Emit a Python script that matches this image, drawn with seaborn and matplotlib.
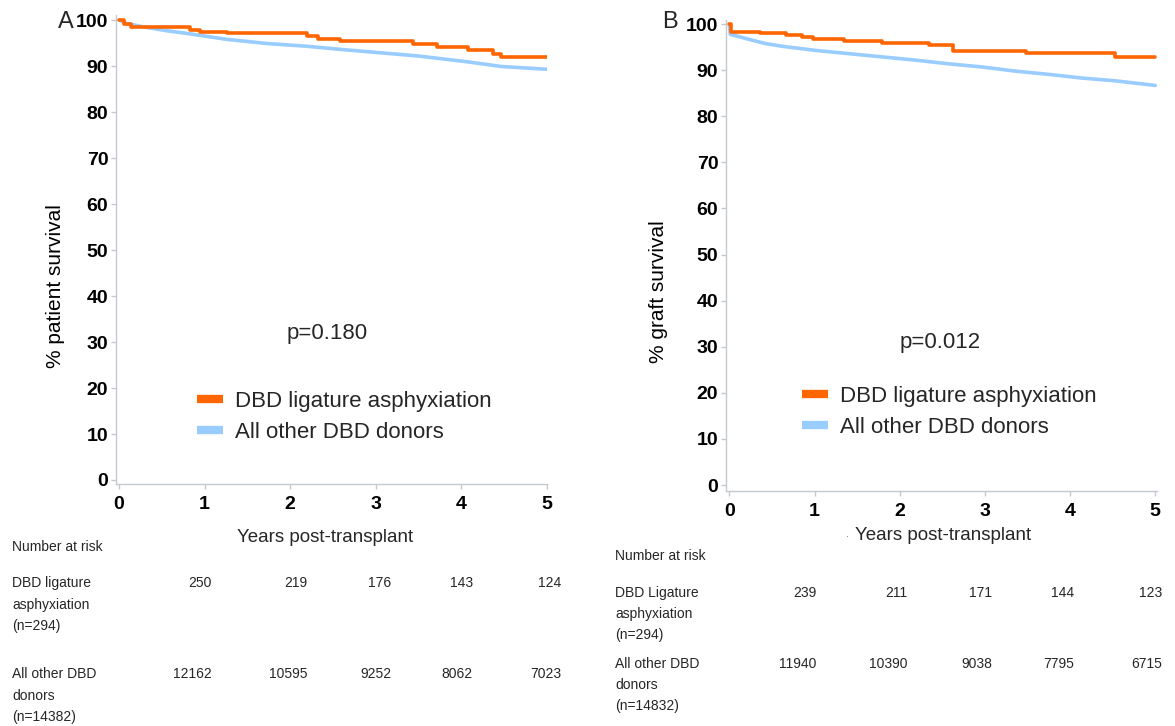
import numpy as np
import pandas as pd
import matplotlib
matplotlib.use("Agg")
import matplotlib.pyplot as plt
import seaborn as sns
from matplotlib.lines import Line2D

# ---------------- data ----------------
year_ticks = [0, 1, 2, 3, 4, 5]
pct_ticks = [0, 10, 20, 30, 40, 50, 60, 70, 80, 90, 100]

# Panel A - patient survival
a_lig_t = [0, 0.06, 0.14, 0.83, 0.95, 1.26, 2.20, 2.32, 2.58, 3.44, 3.72, 4.08, 4.37, 4.46, 5.0]
a_lig_s = [100, 99.2, 98.4, 97.8, 97.4, 97.1, 96.5, 95.9, 95.4, 94.8, 94.1, 93.4, 92.7, 91.9, 91.9]
a_oth_t = [0, 0.10, 0.29, 0.55, 0.83, 1.26, 1.73, 2.20, 2.60, 2.98, 3.49, 4.08, 4.47, 5.0]
a_oth_s = [100, 99.2, 98.5, 97.7, 97.0, 95.8, 94.9, 94.3, 93.6, 93.0, 92.2, 90.9, 89.9, 89.3]

# Panel B - graft survival
b_lig_t = [0, 0.02, 0.36, 0.66, 0.85, 0.98, 1.34, 1.79, 2.34, 2.63, 3.48, 4.53, 5.0]
b_lig_s = [100, 98.3, 98.0, 97.6, 97.2, 96.7, 96.3, 95.9, 95.4, 94.2, 93.7, 92.8, 92.8]
b_oth_t = [0, 0.01, 0.07, 0.23, 0.42, 0.62, 1.01, 1.40, 1.79, 2.18, 2.57, 2.97, 3.36, 3.75, 4.14, 4.53, 5.0]
b_oth_s = [100, 97.8, 97.5, 96.7, 95.8, 95.2, 94.3, 93.6, 92.9, 92.2, 91.4, 90.7, 89.8, 89.1, 88.3, 87.7, 86.7]

series_labels = ["DBD ligature asphyxiation", "All other DBD donors"]
p_values = ["p=0.180", "p=0.012"]
panel_letters = ["A", "B"]
y_labels = ["% patient survival", "% graft survival"]
x_label = "Years post-transplant"

risk_title = "Number at risk"
a_risk_lig = [250, 219, 176, 143, 124]
a_risk_oth = [12162, 10595, 9252, 8062, 7023]
b_risk_lig = [239, 211, 171, 144, 123]
b_risk_oth = [11940, 10390, 9038, 7795, 6715]
a_row_labels = [["DBD ligature", "asphyxiation", "(n=294)"],
                ["All other DBD", "donors", "(n=14382)"]]
b_row_labels = [["DBD Ligature", "asphyxiation", "(n=294)"],
                ["All other DBD", "donors", "(n=14832)"]]

# ---------------- style ----------------
sns.set_theme(style="white")
plt.rcParams["font.family"] = ["Liberation Sans", "DejaVu Sans"]

ORANGE = "#ff6600"
BLUE = "#99ccff"
SPINE = "#c4c8d0"

W, H = 1175, 726
fig = plt.figure(figsize=(W / 100, H / 100), dpi=100)


def fx(px):
    return px / W


def fy(py):
    return 1 - py / H


def ftext(px, py, s, **kw):
    fig.text(fx(px), fy(py), s, **kw)


panels = [
    dict(rect=(116, 15, 547, 484), xlim=(-0.035, 5.0), ylim=(-0.87, 101.1),
         lig=(a_lig_t, a_lig_s), oth=(a_oth_t, a_oth_s), ylab=y_labels[0],
         ylab_pos=(-0.118, 0.422), letter=(66, 22), p=(327, 333), leg=(197, 391),
         xlab=(325, 537), title=(12, 547), rows_y=(583, 674), rows_step=21.5,
         labels=a_row_labels, risk=(a_risk_lig, a_risk_oth),
         risk_x=[212, 307, 391, 473, 561]),
    dict(rect=(726, 20, 1157, 491), xlim=(-0.04, 5.02), ylim=(-1.3, 100.9),
         lig=(b_lig_t, b_lig_s), oth=(b_oth_t, b_oth_s), ylab=y_labels[1],
         ylab_pos=(-0.135, 0.423), letter=(670, 22), p=(940, 343), leg=(802, 386),
         xlab=(943, 535), title=(615, 556), rows_y=(593, 664), rows_step=21,
         labels=b_row_labels, risk=(b_risk_lig, b_risk_oth),
         risk_x=[816, 907, 992, 1074, 1162]),
]

for i, P in enumerate(panels):
    l, t, r, b = P["rect"]
    ax = fig.add_axes([fx(l), fy(b), (r - l) / W, (b - t) / H])
    ax.set_facecolor("white")

    dl = pd.DataFrame({"t": P["lig"][0], "s": P["lig"][1]})
    do = pd.DataFrame({"t": P["oth"][0], "s": P["oth"][1]})
    sns.lineplot(data=do, x="t", y="s", ax=ax, color=BLUE, lw=2.6,
                 estimator=None, sort=False, legend=False)
    sns.lineplot(data=dl, x="t", y="s", ax=ax, color=ORANGE, lw=2.6,
                 estimator=None, sort=False, drawstyle="steps-post", legend=False)

    ax.set_xlim(*P["xlim"])
    ax.set_ylim(*P["ylim"])
    ax.set_xticks(year_ticks)
    ax.set_yticks(pct_ticks)
    for sp in ["top", "right"]:
        ax.spines[sp].set_visible(False)
    for sp in ["left", "bottom"]:
        ax.spines[sp].set_color(SPINE)
        ax.spines[sp].set_linewidth(1.0)
    ax.tick_params(axis="both", which="major", direction="out", length=3.5,
                   width=1.0, color=SPINE, labelsize=14, bottom=True, left=True)
    ax.tick_params(axis="x", pad=5)
    ax.tick_params(axis="y", pad=2)
    for lab in ax.get_xticklabels() + ax.get_yticklabels():
        lab.set_fontweight("bold")
        lab.set_color("black")
    ax.set_xlabel("")
    ax.set_ylabel(P["ylab"], fontsize=15, color="black")
    ax.yaxis.set_label_coords(*P["ylab_pos"])

    handles = [Line2D([], [], color=ORANGE, lw=6, solid_capstyle="butt"),
               Line2D([], [], color=BLUE, lw=6, solid_capstyle="butt")]
    ax.legend(handles, series_labels, loc="upper left",
              bbox_to_anchor=(fx(P["leg"][0]), fy(P["leg"][1])),
              bbox_transform=fig.transFigure, frameon=False, borderpad=0,
              borderaxespad=0, handlelength=1.17, handletextpad=0.55,
              labelspacing=0.45, fontsize=16)

    ftext(*P["letter"], panel_letters[i], fontsize=17, ha="center", va="center")
    ftext(*P["p"], p_values[i], fontsize=16, ha="center", va="center")
    ftext(*P["xlab"], x_label, fontsize=13.5, ha="center", va="center")
    if i == 1:
        ftext(847, 537, "\u00b7", fontsize=7, ha="center", va="center", color="#555555")

    ftext(*P["title"], risk_title, fontsize=10, ha="left", va="center")
    for row, (lines, vals) in enumerate(zip(P["labels"], P["risk"])):
        y0 = P["rows_y"][row]
        for k, s in enumerate(lines):
            ftext(P["title"][0], y0 + k * P["rows_step"], s, fontsize=10,
                  ha="left", va="center")
        for xv, v in zip(P["risk_x"], vals):
            ftext(xv, y0, str(v), fontsize=10, ha="right", va="center")

fig.savefig("out.png", dpi=100)
